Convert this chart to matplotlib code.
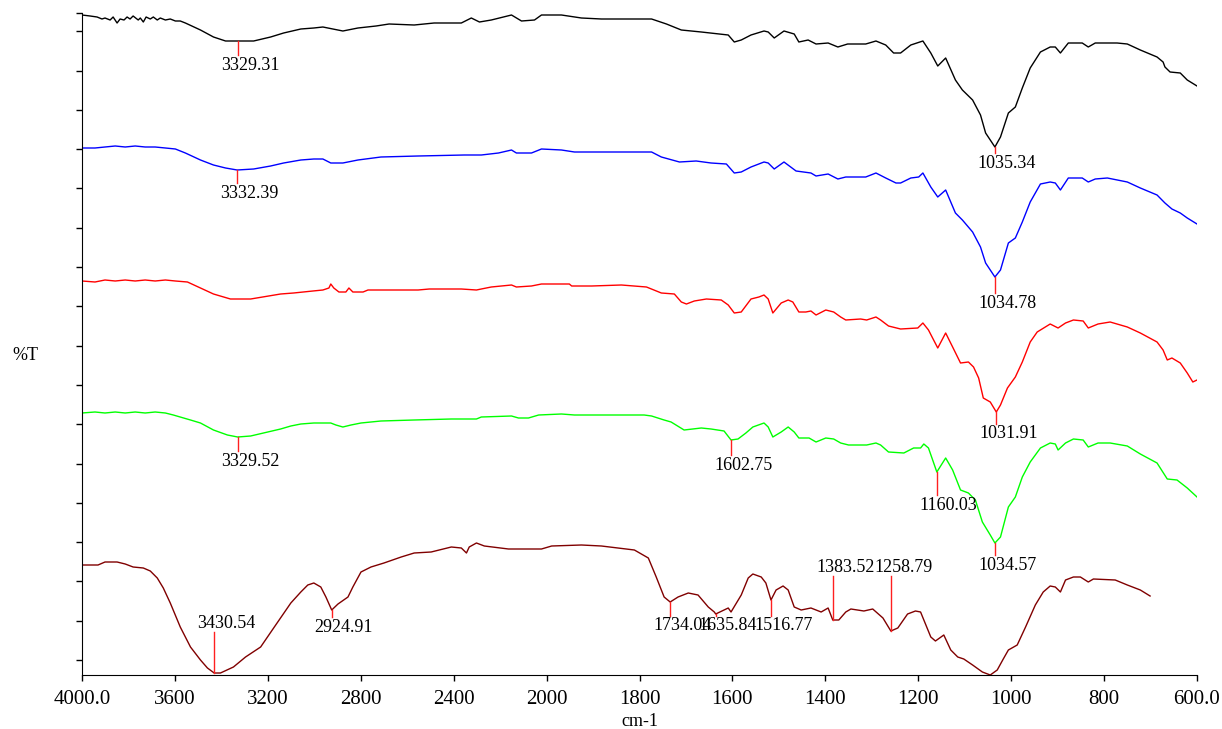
import numpy as np
import matplotlib
matplotlib.use('Agg')
import matplotlib.pyplot as plt

plt.rcParams['font.family'] = ['Liberation Serif', 'DejaVu Serif']

# 红外光谱数据 (波数 cm-1, 透过率 任意单位, 已叠加偏移)
wn_black = [4000, 3965, 3935, 3914, 3901, 3879, 3866, 3849, 3836, 3819, 3806, 3793, 3780, 3758, 3749, 3736,
            3724, 3706, 3693, 3676, 3663, 3641, 3620, 3598, 3577, 3555, 3490, 3434, 3382, 3329, 3261, 3188,
            3132, 3058, 3002, 2963, 2877, 2812, 2734, 2678, 2570, 2484, 2367, 2324, 2289, 2238, 2151, 2108,
            2052, 2022, 1968, 1925, 1882, 1774, 1742, 1710, 1667, 1609, 1596, 1581, 1560, 1532, 1523, 1510,
            1489, 1467, 1457, 1437, 1420, 1394, 1373, 1352, 1313, 1291, 1270, 1253, 1238, 1216, 1190, 1173,
            1158, 1141, 1120, 1105, 1083, 1066, 1055, 1035, 1023, 1006, 991, 976, 959, 937, 916, 905, 894,
            877, 847, 834, 819, 772, 750, 722, 686, 673, 669, 658, 636, 621, 600]
t_black = [660, 659, 658, 656, 657, 655, 658, 652, 656, 655, 658, 656, 659, 655, 657, 653,
           658, 656, 658, 655, 657, 655, 656, 654, 654, 652, 645, 638, 634, 634, 634, 638,
           642, 646, 647, 648, 644, 647, 649, 651, 650, 652, 652, 657, 653, 655, 660, 654,
           655, 660, 660, 657, 656, 656, 651, 645, 643, 640, 633, 635, 640, 644, 643, 637,
           644, 641, 633, 635, 631, 632, 628, 631, 631, 634, 630, 622, 622, 630, 634, 622,
           609, 617, 595, 585, 575, 560, 542, 528, 538, 562, 568, 587, 607, 623, 628, 628, 622,
           632, 632, 628, 632, 632, 631, 625, 618, 613, 608, 603, 602, 595, 589]

wn_blue = [4000, 3944, 3901, 3857, 3814, 3771, 3728, 3685, 3641, 3598, 3555, 3490, 3434, 3382, 3332, 3261,
           3188, 3132, 3058, 3002, 2963, 2929, 2877, 2812, 2713, 2553, 2354, 2281, 2207, 2151, 2130, 2065,
           2022, 1968, 1940, 1774, 1753, 1714, 1678, 1646, 1613, 1596, 1581, 1560, 1532, 1523, 1510, 1489,
           1463, 1431, 1420, 1394, 1373, 1356, 1313, 1291, 1270, 1248, 1238, 1216, 1199, 1190, 1173, 1158,
           1141, 1120, 1105, 1083, 1066, 1055, 1035, 1023, 1006, 991, 976, 959, 937, 916, 905, 894, 877,
           847, 834, 819, 793, 750, 722, 686, 669, 654, 636, 621, 600]
t_blue = [527, 527, 528, 529, 528, 529, 528, 528, 527, 526, 522, 515, 510, 507, 505, 506,
          509, 512, 515, 516, 516, 512, 512, 515, 518, 519, 520, 520, 522, 525, 522, 522,
          526, 525, 523, 523, 518, 513, 514, 512, 511, 502, 503, 508, 513, 512, 506, 513,
          504, 502, 499, 501, 496, 498, 498, 502, 497, 492, 492, 497, 498, 502, 488, 478,
          485, 462, 455, 443, 428, 412, 398, 405, 432, 437, 453, 473, 491, 493, 492, 485, 497,
          497, 493, 496, 497, 493, 487, 480, 472, 466, 462, 457, 451]

wn_red = [4000, 3944, 3901, 3857, 3814, 3771, 3728, 3685, 3641, 3598, 3546, 3490, 3434, 3361, 3274, 3145,
          3089, 3006, 2963, 2937, 2929, 2916, 2894, 2864, 2851, 2834, 2790, 2769, 2553, 2505, 2367, 2302,
          2281, 2238, 2151, 2130, 2065, 2022, 1951, 1946, 1903, 1839, 1785, 1753, 1725, 1710, 1699, 1682,
          1656, 1624, 1609, 1596, 1581, 1560, 1543, 1532, 1523, 1513, 1495, 1480, 1470, 1457, 1442, 1431,
          1420, 1399, 1382, 1367, 1356, 1324, 1311, 1291, 1281, 1264, 1238, 1201, 1190, 1178, 1158, 1141,
          1126, 1109, 1092, 1081, 1070, 1060, 1045, 1032, 1023, 1008, 991, 976, 959, 944, 916, 899, 883,
          866, 845, 834, 813, 787, 750, 722, 686, 673, 664, 654, 636, 621, 609, 600]
t_red = [394, 393, 395, 394, 395, 394, 395, 394, 395, 394, 393, 387, 381, 376, 376, 381,
         382, 384, 385, 387, 391, 387, 383, 383, 387, 383, 383, 385, 385, 386, 386, 385,
         386, 388, 390, 388, 389, 391, 391, 389, 389, 390, 388, 382, 381, 373, 371, 374,
         376, 375, 370, 362, 363, 376, 378, 380, 376, 362, 372, 375, 373, 363, 363, 364,
         360, 365, 363, 358, 355, 356, 355, 358, 355, 349, 346, 347, 352, 345, 327, 342,
         328, 312, 313, 308, 297, 277, 273, 263, 270, 287, 298, 313, 333, 343, 351, 347, 352,
         355, 354, 347, 351, 353, 348, 342, 333, 325, 315, 317, 312, 302, 293, 295]

wn_green = [4000, 3944, 3901, 3857, 3814, 3771, 3728, 3685, 3641, 3607, 3533, 3490, 3434, 3374, 3330, 3274,
            3145, 3101, 3058, 3002, 2929, 2907, 2877, 2842, 2799, 2713, 2570, 2410, 2302, 2281, 2151, 2121,
            2078, 2034, 1968, 1940, 1790, 1774, 1747, 1732, 1704, 1667, 1646, 1618, 1603, 1588, 1571, 1556,
            1532, 1523, 1513, 1495, 1480, 1467, 1457, 1435, 1420, 1399, 1382, 1367, 1350, 1311, 1291, 1281,
            1264, 1231, 1210, 1195, 1188, 1178, 1160, 1141, 1126, 1109, 1092, 1077, 1062, 1045, 1035, 1023,
            1006, 991, 976, 959, 937, 916, 905, 899, 883, 866, 845, 834, 813, 787, 750, 722, 686, 664, 643,
            621, 600]
t_green = [262, 263, 262, 263, 262, 263, 262, 263, 262, 260, 255, 252, 245, 240, 238, 239,
           246, 249, 251, 252, 252, 250, 248, 250, 252, 254, 255, 256, 256, 258, 259, 257,
           257, 260, 261, 260, 260, 259, 255, 253, 245, 247, 246, 244, 235, 236, 242, 248,
           252, 248, 238, 243, 248, 243, 237, 237, 233, 237, 236, 232, 230, 230, 232, 230,
           223, 222, 227, 227, 231, 227, 203, 217, 205, 185, 182, 175, 153, 140, 132, 138,
           168, 178, 198, 213, 227, 232, 231, 225, 232, 236, 235, 228, 232, 232, 229, 221, 212, 196, 195,
           187, 178]

wn_brown = [4000, 3931, 3901, 3849, 3814, 3780, 3736, 3706, 3676, 3650, 3620, 3577, 3533, 3490, 3460, 3431,
            3404, 3348, 3296, 3231, 3175, 3101, 3058, 3028, 3002, 2972, 2950, 2925, 2898, 2855, 2834, 2799,
            2756, 2700, 2626, 2570, 2497, 2410, 2367, 2345, 2333, 2302, 2268, 2164, 2022, 1989, 1925, 1882,
            1811, 1781, 1764, 1747, 1734, 1717, 1695, 1674, 1652, 1639, 1636, 1618, 1609, 1603, 1581, 1566,
            1556, 1538, 1528, 1517, 1506, 1491, 1480, 1467, 1452, 1431, 1409, 1394, 1384, 1371, 1356, 1345,
            1317, 1298, 1276, 1259, 1244, 1223, 1206, 1195, 1173, 1163, 1145, 1130, 1115, 1102, 1083, 1062,
            1045, 1030, 1017, 1006, 987, 969, 948, 931, 916, 905, 894, 883, 866, 851, 834, 823, 776, 750,
            722, 701]
t_brown = [110, 110, 113, 113, 111, 108, 107, 104, 97, 87, 72, 48, 28, 15, 7, 2,
           2, 8, 18, 28, 47, 72, 83, 90, 92, 88, 78, 65, 71, 78, 88, 103,
           108, 112, 118, 122, 123, 128, 127, 122, 128, 132, 129, 126, 126, 129, 130, 129,
           125, 117, 98, 78, 73, 78, 82, 80, 68, 63, 61, 65, 67, 63, 80, 97,
           101, 98, 92, 75, 85, 89, 85, 68, 65, 67, 63, 67, 55, 55, 63, 66,
           64, 66, 57, 44, 47, 61, 64, 63, 38, 34, 40, 25, 18, 16, 10, 3,
           0, 5, 16, 25, 30, 48, 70, 83, 89, 88, 83, 95, 98, 98, 93, 96, 95, 90,
           85, 79]

spectra = [(wn_black, t_black), (wn_blue, t_blue), (wn_red, t_red),
           (wn_green, t_green), (wn_brown, t_brown)]
colors = ['black', '#0000ff', '#ff0000', '#00ff00', '#800000']

# 峰位标注
peak_wn = [3329.31, 1035.34, 3332.39, 1034.78, 1031.91, 3329.52, 1602.75, 1160.03,
           1034.57, 3430.54, 2924.91, 1734.04, 1635.84, 1516.77, 1383.52, 1258.79]
peak_series = [0, 0, 1, 1, 2, 3, 3, 3, 3, 4, 4, 4, 4, 4, 4, 4]
# 标注竖线终点 (纵坐标)
peak_line_end = [620, 522, 492, 382, 251, 224, 220, 180, 120, 43, 58, 59, 59, 59, 99, 99]

x_ticks = [4000, 3600, 3200, 2800, 2400, 2000, 1800, 1600, 1400, 1200, 1000, 800, 600]
x_ticklabels = ['4000.0', '3600', '3200', '2800', '2400', '2000', '1800', '1600',
                '1400', '1200', '1000', '800', '600.0']


def fwd(w):
    """2000 cm-1 以下横轴放大两倍"""
    w = np.asarray(w, dtype=float)
    return np.where(w >= 2000, w, 2 * w - 2000)


def inv(u):
    u = np.asarray(u, dtype=float)
    return np.where(u >= 2000, u, (u + 2000) / 2)


fig = plt.figure(figsize=(12.22, 7.29), dpi=100)
ax = fig.add_axes([82 / 1222, 54 / 729, 1115 / 1222, 662 / 729])
ax.set_xscale('function', functions=(fwd, inv))

for (wn, t), c in zip(spectra, colors):
    ax.plot(wn, t, color=c, lw=1.0)

for wn_p, s, y_end in zip(peak_wn, peak_series, peak_line_end):
    wn, t = spectra[s]
    y0 = np.interp(wn_p, wn[::-1], t[::-1])
    ax.plot([wn_p, wn_p], [y0, y_end], color='#ff2020', lw=1.0)
    dy = 9 if y_end > y0 else -10
    ax.annotate(f'{wn_p:.2f}', xy=(wn_p, y_end), xytext=(-17, dy), textcoords='offset pixels',
                ha='left', va='center', fontsize=13)

ax.set_xlim(4000, 600)
ax.set_ylim(0, 662)
ax.set_xticks(x_ticks)
ax.set_xticklabels(x_ticklabels, fontsize=15)
ax.set_yticks([15 + 39.3 * k for k in range(17)] + [662])
ax.set_yticklabels([])
ax.tick_params(axis='both', direction='out', length=4, width=1)
ax.tick_params(axis='x', pad=7)
ax.minorticks_off()
ax.spines['top'].set_visible(False)
ax.spines['right'].set_visible(False)
ax.set_xlabel('cm-1', fontsize=13, labelpad=3)
fig.text(25 / 1222, 1 - 355 / 729, '%T', fontsize=13, ha='center', va='center')

fig.savefig('out.png', dpi=100)
